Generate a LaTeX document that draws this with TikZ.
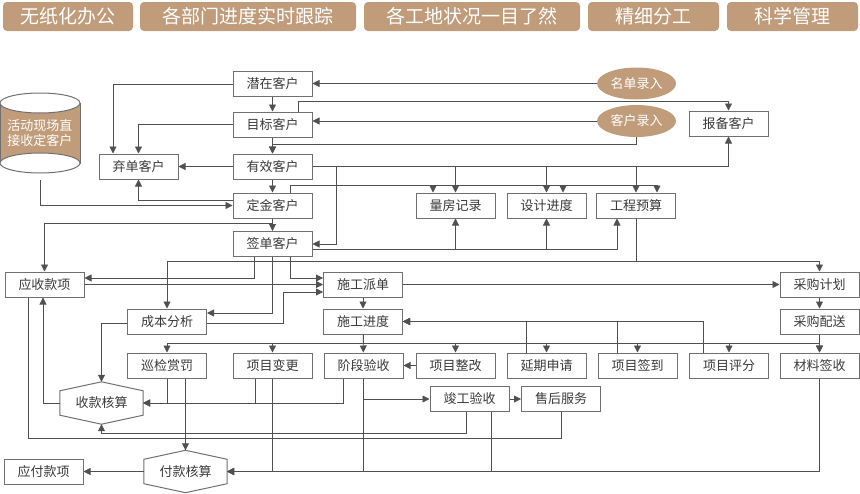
\documentclass[tikz,border=0pt]{standalone}
\usepackage{fontspec}
\setmainfont{Noto Sans CJK SC}
\usepackage{tikz}
\usetikzlibrary{arrows.meta, shapes.geometric, positioning}

\definecolor{clay}{HTML}{C09C7A}
\definecolor{linegray}{HTML}{505050}
\definecolor{boxgray}{HTML}{707070}
\definecolor{textgray}{HTML}{3A3A3A}
\newcommand{\boxfont}{\fontsize{13pt}{15pt}\selectfont}
\newcommand{\bannerfont}{\fontsize{19pt}{22pt}\selectfont}

\begin{document}
\begin{tikzpicture}[x=1pt, y=-1pt,
        box/.style={rectangle, draw=boxgray, fill=white, line width=1pt, minimum width=79pt, minimum height=25pt, inner sep=0pt, font=\boxfont, text=textgray},
        banner/.style={rectangle, rounded corners=4pt, fill=clay, text=white, minimum height=29pt, inner sep=0pt, font=\bannerfont},
        oval/.style={ellipse, fill=clay, text=white, minimum width=79pt, minimum height=32pt, inner sep=0pt, font=\boxfont},
        hexa/.style={rectangle, minimum width=83pt, minimum height=42pt, inner sep=0pt, font=\boxfont, text=textgray},
        arrow/.style={-{Triangle[length=7pt, width=7pt]}, line width=0.8pt, linegray},
        link/.style={line width=0.8pt, linegray}
    ]
        \useasboundingbox (0,0) rectangle (860,493);

        % banners
        \node[banner, minimum width=130pt] (b1) at (68,16.5) {无纸化办公};
        \node[banner, minimum width=216pt] (b2) at (248,16.5) {各部门进度实时跟踪};
        \node[banner, minimum width=216pt] (b3) at (472,16.5) {各工地状况一目了然};
        \node[banner, minimum width=131pt] (b4) at (653.5,16.5) {精细分工};
        \node[banner, minimum width=131pt] (b5) at (792.5,16.5) {科学管理};

        % cylinder
        \draw[boxgray, line width=1pt, fill=clay] (0,103) -- (0,163) -- (80,163) -- (80,103);
        \draw[boxgray, line width=1pt, fill=white] (40,103) ellipse (40pt and 10pt);
        \draw[boxgray, line width=1pt, fill=white] (40,163) ellipse (40pt and 10pt);
        \node[align=center, text=white, font=\boxfont, minimum width=80pt, minimum height=80pt, inner sep=0pt] (huodong) at (40,133) {活动现场直\\接收定客户};

        % customers
        \node[box] (qianzai) at (272.5,84) {潜在客户};
        \node[box] (mubiao) at (272.5,124.5) {目标客户};
        \node[box] (youxiao) at (272.5,166.5) {有效客户};
        \node[box] (dingjin) at (272.5,205.5) {定金客户};
        \node[box] (qiandan) at (272.5,244) {签单客户};
        \node[box] (qidan) at (138.5,166.5) {弃单客户};
        \node[oval] (mingdan) at (636.5,83.5) {名单录入};
        \node[oval] (kehulr) at (636.5,121) {客户录入};
        \node[box] (baobei) at (728.5,123.5) {报备客户};
        \node[box] (liangfang) at (455.5,205.5) {量房记录};
        \node[box] (sheji) at (546.5,205.5) {设计进度};
        \node[box] (yusuan) at (636,205.5) {工程预算};

        % construction
        \node[box] (yingshou) at (44.5,284.5) {应收款项};
        \node[box] (paidan) at (363,284.5) {施工派单};
        \node[box] (caigou) at (819.5,284.5) {采购计划};
        \node[box] (chengben) at (167,321.5) {成本分析};
        \node[box] (jindu) at (363,321.5) {施工进度};
        \node[box] (peisong) at (819.5,321.5) {采购配送};
        \node[box] (xunjian) at (167,365.5) {巡检赏罚};
        \node[box] (biangeng) at (272.5,365.5) {项目变更};
        \node[box] (jieduan) at (363.5,365.5) {阶段验收};
        \node[box] (zhenggai) at (455.5,365.5) {项目整改};
        \node[box] (yanqi) at (546.5,365.5) {延期申请};
        \node[box] (qiandao) at (637.5,365.5) {项目签到};
        \node[box] (pingfen) at (729,365.5) {项目评分};
        \node[box] (cailiao) at (819.5,365.5) {材料签收};
        \node[box] (jungong) at (469.5,399) {竣工验收};
        \node[box] (shouhou) at (561,399) {售后服务};
        \node[hexa] (shoukuan) at (101.5,403) {收款核算};
        \node[hexa] (fukuan) at (185.5,471.5) {付款核算};
        \node[box] (yingfu) at (43.5,471.5) {应付款项};

        \foreach \h in {shoukuan, fukuan}
            \draw[boxgray, line width=1pt] (\h.north) -- ([yshift=-9pt]\h.north east) -- ([yshift=9pt]\h.south east)
                -- (\h.south) -- ([yshift=9pt]\h.south west) -- ([yshift=-9pt]\h.north west) -- cycle;

        % customer flow
        \draw[arrow] (mingdan.west) -- (mingdan.west -| qianzai.east);
        \draw[arrow] (kehulr.west) -- (kehulr.west -| mubiao.east);
        \draw[arrow] (qianzai) -- (mubiao);
        \draw[arrow] (mubiao) -- (youxiao);
        \draw[arrow] (youxiao) -- (dingjin);
        \draw[arrow] (dingjin) -- (qiandan);
        \draw[arrow] (qianzai.west) -| ([xshift=-25.5pt]qidan.north);
        \draw[arrow] (mubiao.west) -| (qidan.north);
        \draw[arrow] (youxiao) -- (qidan);
        \draw[arrow] ([yshift=5.5pt]dingjin.west) -| (qidan.south);
        \draw[arrow] ([yshift=-7pt]huodong.south) |- (dingjin.west);
        \draw[arrow] ([xshift=25.5pt]mubiao.north) -- ++(0,-10) -| (baobei.north);
        \draw[arrow] (kehulr.south) -- ++(0,7.5) -| (youxiao.north);

        % to records
        \draw[arrow] (youxiao.east) -| (baobei.south);
        \draw[arrow] (youxiao.east -| liangfang.north) -- (liangfang.north);
        \draw[arrow] (youxiao.east -| sheji.north) -- (sheji.north);
        \draw[arrow] (youxiao.east -| yusuan.north) -- (yusuan.north);
        \draw[arrow] (youxiao.east) -- ++(23.5,0) |- (qiandan.east);
        \draw[arrow] ([xshift=17.5pt]dingjin.north) -- ++(0,-7.5) -| ([xshift=-22.5pt]liangfang.north);
        \draw[arrow] ([xshift=17.5pt]dingjin.north) -- ++(0,-7.5) -| ([xshift=16.5pt]sheji.north);
        \draw[arrow] ([xshift=17.5pt]dingjin.north) -- ++(0,-7.5) -| ([xshift=21pt]yusuan.north);
        \draw[arrow] ([yshift=-5pt]qiandan.east) -| (liangfang.south);
        \draw[arrow] ([yshift=-5pt]qiandan.east) -| (sheji.south);
        \draw[arrow] ([yshift=-5pt]qiandan.east) -| ([xshift=-19pt]yusuan.south);

        % to construction
        \draw[arrow] (dingjin.south) -- ++(0,5) -| (yingshou.north);
        \draw[arrow] (yusuan.south) -- ++(0,43) -| (caigou.north);
        \draw[arrow] (yusuan.south) -- ++(0,43) -| (chengben.north);
        \draw[arrow] ([xshift=-18.5pt]qiandan.south) |- ([yshift=6.5pt]yingshou.east);
        \draw[arrow] (qiandan.south) |- ([yshift=8.5pt]chengben.east);
        \draw[arrow] ([xshift=17.5pt]qiandan.south) |- ([yshift=6.5pt]paidan.west);
        \draw[arrow] (yingshou.east) -- (paidan.west);
        \draw[arrow] ([yshift=-1.5pt]chengben.east) -- ++(76,0) |- ([yshift=-7.5pt]paidan.west);
        \draw[arrow] (paidan) -- (caigou);
        \draw[arrow] (paidan) -- (jindu);
        \draw[arrow] (caigou) -- (peisong);
        \draw[arrow] (peisong) -- (cailiao);
        \draw[arrow] (jindu) -- (jieduan);
        \foreach \t in {xunjian, biangeng, zhenggai, yanqi, qiandao, pingfen, cailiao}
            \draw[arrow] (jindu.south) -- ++(0,9) -| (\t.north);
        \draw[arrow] ([xshift=-20.5pt]yanqi.north) |- (jindu.east);
        \draw[arrow] ([xshift=-20.5pt]qiandao.north) |- (jindu.east);
        \draw[arrow] ([xshift=-26pt]pingfen.north) |- (jindu.east);
        \draw[arrow] (zhenggai) -- (jieduan);
        \draw[arrow] (jieduan.south) |- (jungong.west);
        \draw[arrow] (jungong) -- (shouhou);

        % accounts
        \draw[arrow] (xunjian.south) |- (shoukuan.east);
        \draw[arrow] ([xshift=-17.5pt]biangeng.south) |- (shoukuan.east);
        \draw[arrow] ([xshift=-20.5pt]jieduan.south) |- (shoukuan.east);
        \draw[arrow] ([yshift=-1.5pt]chengben.west) -| (shoukuan.north);
        \draw[arrow] (shoukuan.west) -| ([xshift=-1.5pt]yingshou.south);
        \draw[arrow] ([xshift=-3.5pt]jungong.south) -- ++(0,21) -| (shoukuan.south);
        \draw[link] (shouhou.south) -- ++(0,26) -| ([xshift=-16.5pt]yingshou.south);
        \draw[arrow] ([xshift=18.5pt]xunjian.south) -- (fukuan.north);
        \draw[arrow] (biangeng.south) |- (fukuan.east);
        \draw[arrow] (jieduan.south) |- (fukuan.east);
        \draw[arrow] ([xshift=21.5pt]jungong.south) |- (fukuan.east);
        \draw[arrow] (cailiao.south) |- (fukuan.east);
        \draw[arrow] (fukuan) -- (yingfu);
    \end{tikzpicture}
\end{document}
